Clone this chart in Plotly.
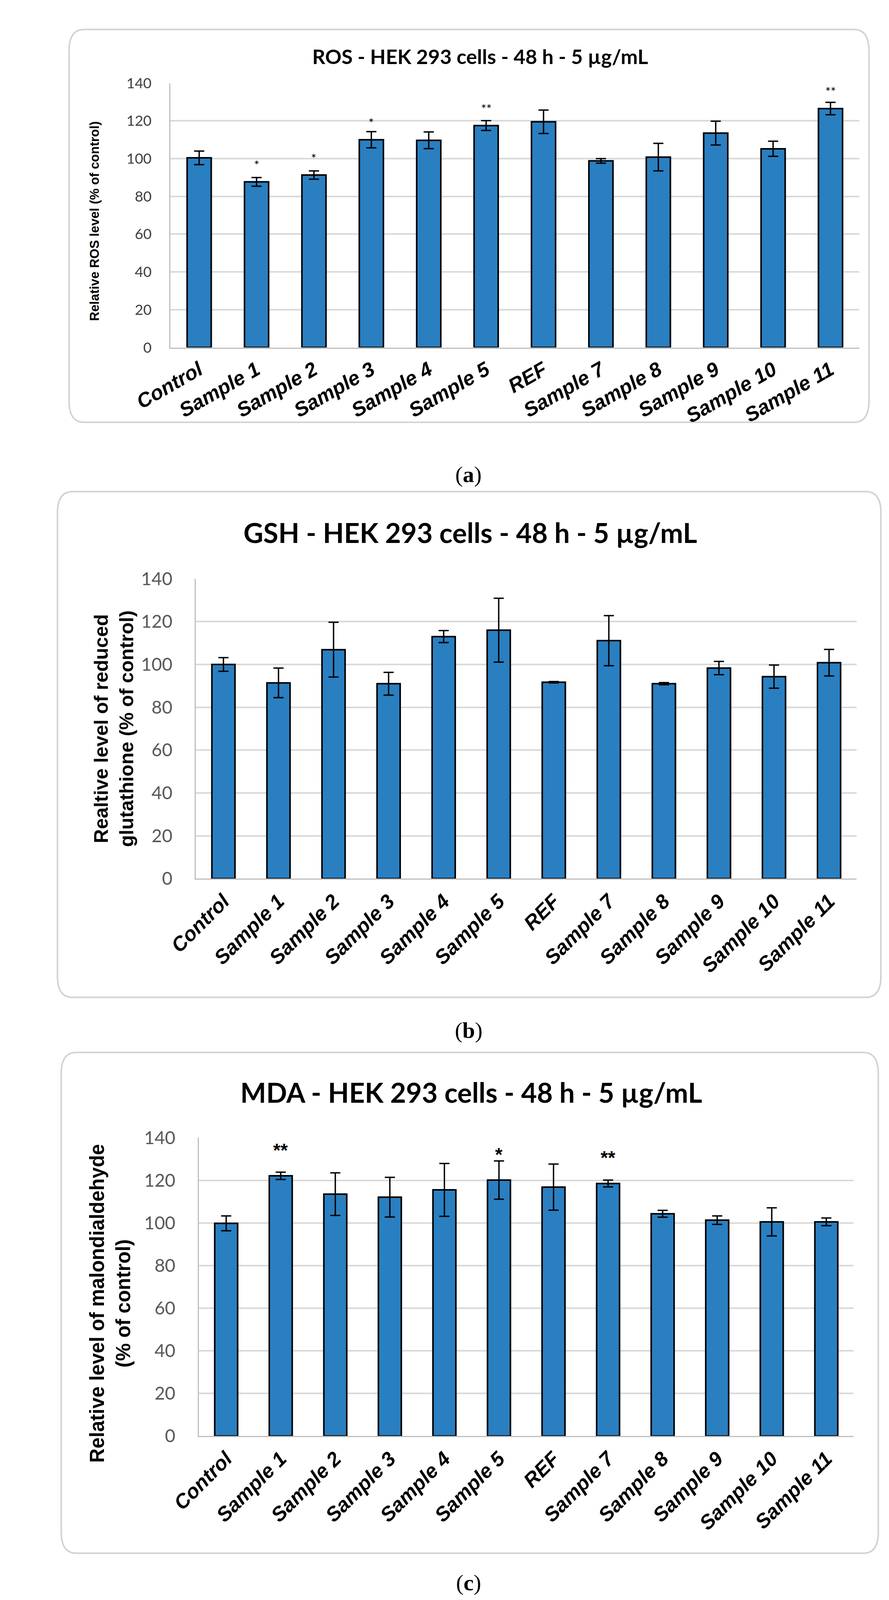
import plotly.graph_objects as go

# data
categories = ["Control", "Sample 1", "Sample 2", "Sample 3", "Sample 4", "Sample 5",
              "REF", "Sample 7", "Sample 8", "Sample 9", "Sample 10", "Sample 11"]

ros_mean = [100.4, 87.7, 91.3, 110.0, 109.7, 117.5, 119.5, 98.8, 100.8, 113.5, 105.2, 126.5]
ros_err = [3.6, 2.3, 2.2, 4.3, 4.4, 2.6, 6.2, 1.2, 7.3, 6.3, 4.0, 3.3]
ros_sig = ["", "*", "*", "*", "", "**", "", "", "", "", "", "**"]

gsh_mean = [100.0, 91.4, 106.9, 91.0, 113.0, 116.0, 91.7, 111.1, 91.0, 98.3, 94.3, 100.8]
gsh_err = [3.2, 6.9, 12.8, 5.3, 2.8, 14.9, 0.3, 11.7, 0.5, 3.1, 5.4, 6.2]
gsh_sig = [""] * 12

mda_mean = [99.8, 122.1, 113.5, 112.1, 115.5, 120.1, 116.8, 118.5, 104.3, 101.3, 100.5, 100.5]
mda_err = [3.5, 1.7, 10.0, 9.3, 12.4, 9.0, 10.8, 1.6, 1.6, 2.0, 6.6, 1.8]
mda_sig = ["", "**", "", "", "", "*", "", "**", "", "", "", ""]

y_ticks = [0, 20, 40, 60, 80, 100, 120, 140]

W, H = 2275, 4157
BAR = "#2a7fc1"


def px(x):
    return x / W


def py(y):
    return 1 - y / H


def box_path(x0, y0, x1, y1, rx=40, ry=55):
    p = [
        f"M {px(x0 + rx)},{py(y0)}", f"L {px(x1 - rx)},{py(y0)}",
        f"Q {px(x1)},{py(y0)} {px(x1)},{py(y0 + ry)}", f"L {px(x1)},{py(y1 - ry)}",
        f"Q {px(x1)},{py(y1)} {px(x1 - rx)},{py(y1)}", f"L {px(x0 + rx)},{py(y1)}",
        f"Q {px(x0)},{py(y1)} {px(x0)},{py(y1 - ry)}", f"L {px(x0)},{py(y0 + ry)}",
        f"Q {px(x0)},{py(y0)} {px(x0 + rx)},{py(y0)}", "Z",
    ]
    return " ".join(p)


panels = [
    dict(mean=ros_mean, err=ros_err, sig=ros_sig,
         title="ROS - HEK 293 cells - 48 h - 5 µg/mL",
         ytitle="Relative ROS level (% of control)", label="a",
         box=(75, 39, 2213, 1058), plot=(346, 178, 2187, 864),
         title_xy=(1174, 108), title_size=52,
         ytitle_xy=(143, 536), ytitle_size=33,
         ytick_size=37, ytick_color="#404040", ytick_standoff=38,
         xtick_angle=-30, xtick_size=52,
         star_size=32, star_shift=43, star_bold=False, label_y=1193),
    dict(mean=gsh_mean, err=gsh_err, sig=gsh_sig,
         title="GSH - HEK 293 cells - 48 h - 5 µg/mL",
         ytitle="Realtive level of reduced<br>glutathione (% of control)", label="b",
         box=(44, 1238, 2245, 2550), plot=(414, 1464, 2180, 2242),
         title_xy=(1147, 1344), title_size=70,
         ytitle_xy=(195, 1853), ytitle_size=50,
         ytick_size=46, ytick_color="#595959", ytick_standoff=48,
         xtick_angle=-45, xtick_size=52,
         star_size=48, star_shift=66, star_bold=True, label_y=2635),
    dict(mean=mda_mean, err=mda_err, sig=mda_sig,
         title="MDA - HEK 293 cells - 48 h - 5 µg/mL",
         ytitle="Relative level of malondialdehyde<br>(% of control)", label="c",
         box=(54, 2693, 2238, 3992), plot=(422, 2914, 2172, 3688),
         title_xy=(1150, 2796), title_size=70,
         ytitle_xy=(185, 3344), ytitle_size=51,
         ytick_size=46, ytick_color="#595959", ytick_standoff=48,
         xtick_angle=-45, xtick_size=52,
         star_size=48, star_shift=66, star_bold=True, label_y=4068),
]

fig = go.Figure()
shapes = []
annotations = []

for i, p in enumerate(panels, start=1):
    sfx = "" if i == 1 else str(i)
    fig.add_trace(go.Bar(
        x=categories, y=p["mean"], xaxis="x" + sfx, yaxis="y" + sfx,
        marker=dict(color=BAR, line=dict(color="black", width=4)),
        error_y=dict(type="data", array=p["err"], color="black", thickness=3.5, width=13),
        showlegend=False,
    ))
    x0, y0, x1, y1 = p["plot"]
    fig.update_layout({
        "xaxis" + sfx: dict(
            domain=[px(x0), px(x1)], anchor="y" + sfx, type="category",
            tickangle=p["xtick_angle"], ticks="", showgrid=False,
            showline=True, linecolor="#bfbfbf", linewidth=3,
            tickfont=dict(family="Liberation Sans, Arial", size=p["xtick_size"],
                          color="black", weight="bold", style="italic"),
            ticklabelstandoff=4,
        ),
        "yaxis" + sfx: dict(
            domain=[py(y1), py(y0)], anchor="x" + sfx, range=[0, 140],
            tickvals=y_ticks, ticks="", showgrid=True, gridcolor="#d9d9d9", gridwidth=4,
            zeroline=False, showline=True, linecolor="#bfbfbf", linewidth=3,
            tickfont=dict(family="Lato, Open Sans", size=p["ytick_size"], color=p["ytick_color"]),
            ticklabelstandoff=p["ytick_standoff"],
        ),
    })
    shapes.append(dict(type="path", xref="paper", yref="paper", layer="below",
                       path=box_path(*p["box"]), line=dict(color="#d3d3d3", width=4),
                       fillcolor="white"))
    tx, ty = p["title_xy"]
    annotations.append(dict(x=px(tx), y=py(ty), xref="paper", yref="paper", showarrow=False,
                            text=p["title"], xanchor="center", yanchor="middle",
                            font=dict(family="Lato, Open Sans", size=p["title_size"],
                                      color="black", weight="bold")))
    ax, ay = p["ytitle_xy"]
    annotations.append(dict(x=px(ax), y=py(ay), xref="paper", yref="paper", showarrow=False,
                            text=p["ytitle"], textangle=-90, xanchor="center", yanchor="middle",
                            font=dict(family="Liberation Sans, Arial", size=p["ytitle_size"],
                                      color="black", weight="bold")))
    annotations.append(dict(x=px(1143), y=py(p["label_y"]), xref="paper", yref="paper",
                            showarrow=False, text=f"(<b>{p['label']}</b>)",
                            xanchor="center", yanchor="middle",
                            font=dict(family="Liberation Serif, DejaVu Serif", size=58, color="black")))
    for cat, val, s in zip(categories, p["mean"], p["sig"]):
        if not s:
            continue
        annotations.append(dict(x=cat, y=val, xref="x" + sfx, yref="y" + sfx, showarrow=False,
                                text=s, yanchor="middle", yshift=p["star_shift"],
                                font=dict(family="Liberation Sans, Arial" if p["star_bold"] else "Lato",
                                          size=p["star_size"], color="black",
                                          weight="bold" if p["star_bold"] else "normal")))

fig.update_layout(
    width=W, height=H,
    margin=dict(l=0, r=0, t=0, b=0),
    paper_bgcolor="white", plot_bgcolor="rgba(0,0,0,0)",
    bargap=0.58,
    shapes=shapes, annotations=annotations,
)

fig.write_html("out.html")
